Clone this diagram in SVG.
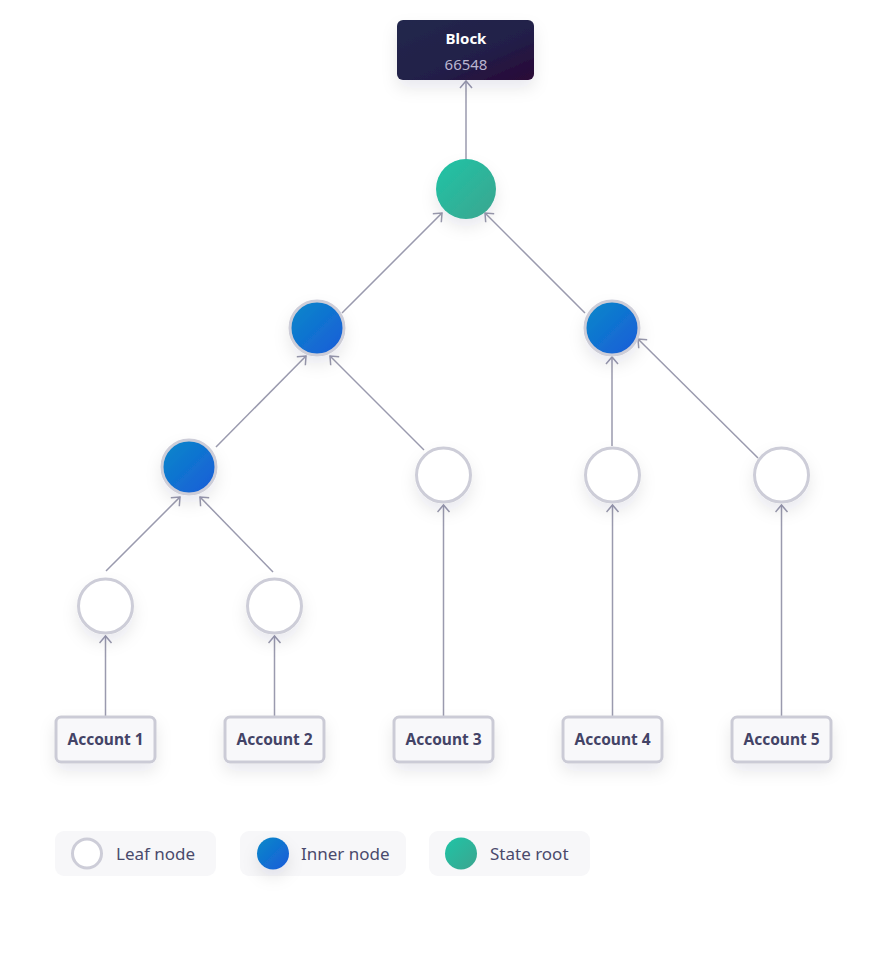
<svg xmlns="http://www.w3.org/2000/svg" width="887" height="980" viewBox="0 0 887 980">
<defs>
<linearGradient id="gBlock" x1="0" y1="0" x2="1" y2="1">
<stop offset="0" stop-color="#23284d"/><stop offset="0.6" stop-color="#221f48"/><stop offset="1" stop-color="#2a0636"/>
</linearGradient>
<linearGradient id="gInner" x1="0" y1="0" x2="1" y2="1">
<stop offset="0" stop-color="#0789c9"/><stop offset="1" stop-color="#1b5bd9"/>
</linearGradient>
<linearGradient id="gRoot" x1="0" y1="0" x2="1" y2="1">
<stop offset="0" stop-color="#1fc4a6"/><stop offset="1" stop-color="#3ca58f"/>
</linearGradient>
<filter id="sh" x="-50%" y="-50%" width="200%" height="220%">
<feDropShadow dx="0" dy="8" stdDeviation="8" flood-color="#1b1d40" flood-opacity="0.09"/>
</filter>
<marker id="arr" markerWidth="14" markerHeight="14" refX="10" refY="7" orient="auto" markerUnits="userSpaceOnUse">
<path d="M3,1 L10,7 L3,13" fill="none" stroke="#9a9aae" stroke-width="1.5"/>
</marker>
</defs>
<style>
.edge{stroke:#9a9aae;stroke-width:1.5;fill:none;marker-end:url(#arr)}
.leaf{fill:#fff;stroke:#cdcdd8;stroke-width:3;filter:url(#sh)}
.inner{fill:url(#gInner);stroke:#cdcdd8;stroke-width:3;filter:url(#sh)}
.acc{fill:#f8f8fa;stroke:#cbcbd6;stroke-width:3;filter:url(#sh)}
.acct{font-family:"Noto Sans",Lato,sans-serif;font-weight:700;font-size:15.5px;fill:#434366;text-anchor:middle}
.leg{fill:#f7f7f9}
.legt{font-family:"Noto Sans",Lato,sans-serif;font-size:17px;fill:#4a4a6c}
</style>
<rect width="887" height="980" fill="#fff"/>

<g id="connectors">
<line class="edge" x1="466" y1="160" x2="466" y2="81"/>
<line class="edge" x1="342" y1="313" x2="442" y2="213"/>
<line class="edge" x1="585" y1="313" x2="485" y2="213"/>
<line class="edge" x1="216" y1="447" x2="306" y2="356"/>
<line class="edge" x1="424" y1="450" x2="330" y2="356"/>
<line class="edge" x1="612" y1="446" x2="612" y2="357"/>
<line class="edge" x1="758" y1="458" x2="638" y2="339"/>
<line class="edge" x1="106" y1="571" x2="180" y2="497"/>
<line class="edge" x1="273" y1="572" x2="200" y2="497"/>
<line class="edge" x1="105.5" y1="717" x2="105.5" y2="636"/>
<line class="edge" x1="274.5" y1="717" x2="274.5" y2="636"/>
<line class="edge" x1="443.5" y1="717" x2="443.5" y2="505"/>
<line class="edge" x1="612.5" y1="717" x2="612.5" y2="505"/>
<line class="edge" x1="781.5" y1="717" x2="781.5" y2="505"/>
</g>

<g id="block">
<rect x="397" y="20" width="137" height="60" rx="6" fill="url(#gBlock)" filter="url(#sh)"/>
<text x="466" y="44" font-family="'Noto Sans',Lato,sans-serif" font-weight="700" font-size="15" fill="#ffffff" text-anchor="middle">Block</text>
<text x="466" y="70" font-family="'Noto Sans',Lato,sans-serif" font-size="15" fill="#bab5cf" text-anchor="middle">66548</text>
</g>

<g id="root"><circle cx="466" cy="189" r="30" fill="url(#gRoot)" filter="url(#sh)"/></g>
<g id="inner-l1"><circle class="inner" cx="317" cy="328" r="27"/></g>
<g id="inner-r1"><circle class="inner" cx="612" cy="328" r="27"/></g>
<g id="inner-l2"><circle class="inner" cx="189" cy="467" r="27"/></g>
<g id="leaf-3"><circle class="leaf" cx="443.5" cy="475" r="27"/></g>
<g id="leaf-4"><circle class="leaf" cx="612.5" cy="475" r="27"/></g>
<g id="leaf-5"><circle class="leaf" cx="781.5" cy="475" r="27"/></g>
<g id="leaf-1"><circle class="leaf" cx="105.5" cy="606" r="27"/></g>
<g id="leaf-2"><circle class="leaf" cx="274.5" cy="606" r="27"/></g>

<g id="account-1"><rect class="acc" x="56" y="717" width="99" height="45" rx="5"/><text class="acct" x="105.5" y="745">Account 1</text></g>
<g id="account-2"><rect class="acc" x="225" y="717" width="99" height="45" rx="5"/><text class="acct" x="274.5" y="745">Account 2</text></g>
<g id="account-3"><rect class="acc" x="394" y="717" width="99" height="45" rx="5"/><text class="acct" x="443.5" y="745">Account 3</text></g>
<g id="account-4"><rect class="acc" x="563" y="717" width="99" height="45" rx="5"/><text class="acct" x="612.5" y="745">Account 4</text></g>
<g id="account-5"><rect class="acc" x="732" y="717" width="99" height="45" rx="5"/><text class="acct" x="781.5" y="745">Account 5</text></g>

<g id="legend">
<g id="legend-leaf">
<rect class="leg" x="55" y="831" width="161" height="45" rx="9"/>
<circle cx="87" cy="853.5" r="14.5" fill="#fff" stroke="#cdcdd8" stroke-width="3"/>
<text class="legt" x="116" y="860">Leaf node</text>
</g>
<g id="legend-inner">
<rect class="leg" x="240" y="831" width="166" height="45" rx="9"/>
<circle cx="273" cy="853.5" r="16" fill="url(#gInner)" filter="url(#sh)"/>
<text class="legt" x="301" y="860">Inner node</text>
</g>
<g id="legend-root">
<rect class="leg" x="429" y="831" width="161" height="45" rx="9"/>
<circle cx="461" cy="853.5" r="16" fill="url(#gRoot)"/>
<text class="legt" x="490" y="860">State root</text>
</g>
</g>
</svg>
